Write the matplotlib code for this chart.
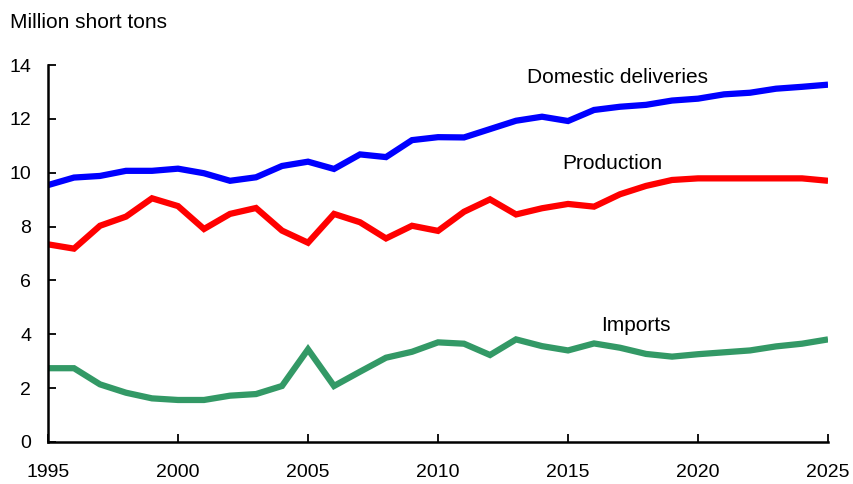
import matplotlib
matplotlib.use("Agg")
import matplotlib.pyplot as plt

plt.rcParams['font.family'] = ['Liberation Sans', 'DejaVu Sans']

years = list(range(1995, 2026))
domestic = [9.54, 9.82, 9.88, 10.07, 10.07, 10.15, 9.98, 9.70, 9.83, 10.25,
            10.41, 10.14, 10.68, 10.58, 11.21, 11.32, 11.31, 11.62, 11.93, 12.08,
            11.92, 12.33, 12.45, 12.52, 12.68, 12.75, 12.91, 12.97, 13.12, 13.19, 13.27]
production = [7.34, 7.18, 8.03, 8.37, 9.05, 8.76, 7.91, 8.47, 8.69, 7.85,
              7.40, 8.47, 8.16, 7.56, 8.03, 7.84, 8.55, 9.01, 8.45, 8.68,
              8.84, 8.74, 9.20, 9.51, 9.73, 9.79, 9.79, 9.79, 9.79, 9.79, 9.70]
imports = [2.74, 2.74, 2.14, 1.83, 1.62, 1.56, 1.56, 1.72, 1.78, 2.08,
           3.44, 2.08, 2.61, 3.13, 3.35, 3.70, 3.65, 3.23, 3.81, 3.56,
           3.40, 3.66, 3.50, 3.27, 3.17, 3.26, 3.33, 3.40, 3.55, 3.65, 3.81]
xticks = [1995, 2000, 2005, 2010, 2015, 2020, 2025]
yticks = [0, 2, 4, 6, 8, 10, 12, 14]

fig = plt.figure(figsize=(8.54, 4.84), dpi=100)
ax = fig.add_axes([0.0562, 0.0868, 0.9134, 0.7789])

lw = 4.5
ax.plot(years, domestic, color='#0000FF', lw=lw, solid_joinstyle='miter', solid_capstyle='butt')
ax.plot(years, production, color='#FF0000', lw=lw, solid_joinstyle='miter', solid_capstyle='butt')
ax.plot(years, imports, color='#339966', lw=lw, solid_joinstyle='miter', solid_capstyle='butt')

ax.set_xlim(1995, 2025)
ax.set_ylim(0, 14)
ax.set_xticks(xticks)
ax.set_yticks(yticks)
for s in ['top', 'right']:
    ax.spines[s].set_visible(False)
for s in ['left', 'bottom']:
    ax.spines[s].set_linewidth(1.8)
ax.tick_params(axis='both', direction='in', length=6, width=1.3, labelsize=14, colors='black')
ax.tick_params(axis='y', pad=12)
ax.tick_params(axis='x', pad=16)

ax.text(2016.9, 13.52, 'Domestic deliveries', fontsize=15, ha='center', va='center')
ax.text(2016.7, 10.36, 'Production', fontsize=15, ha='center', va='center')
ax.text(2017.6, 4.34, 'Imports', fontsize=15, ha='center', va='center')

fig.text(10 / 854, 1 - 22 / 484, 'Million short tons', fontsize=15, ha='left', va='center')

fig.savefig('out.png', dpi=100)
